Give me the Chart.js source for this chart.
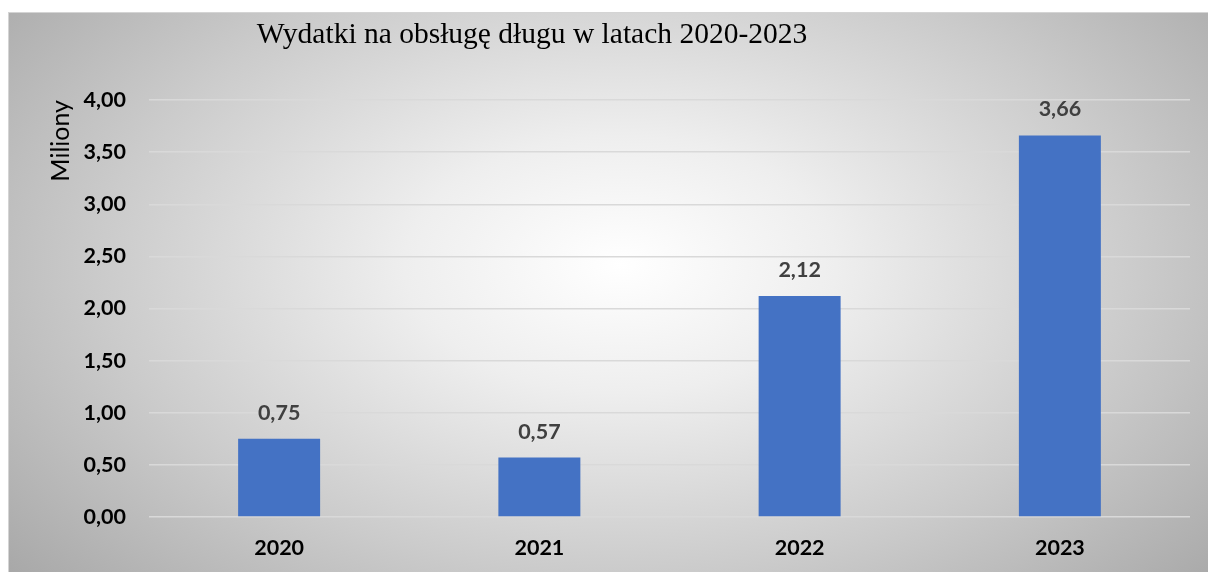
<!DOCTYPE html>
<html>
<head>
<meta charset="utf-8">
<script src="https://cdn.jsdelivr.net/npm/chart.js@4/dist/chart.umd.min.js"></script>
<style>
html, body { margin: 0; padding: 0; background: #ffffff; }
#wrap {
  position: absolute; left: 8px; top: 12px; width: 1200px; height: 560px;
  border-top: 1px solid #d4d4d4; border-left: 1px solid #d4d4d4;
  box-sizing: border-box;
  background: radial-gradient(ellipse 72% 92% at 51% 45%, #ffffff 0%, #eeeeee 25%, #cbcbcb 60%, #ababab 90%, #a0a0a0 100%);
}
#c { display: block; }
</style>
</head>
<body>
<div id="wrap"><canvas id="c" width="1199" height="559"></canvas></div>
<script>
const chartTitle = 'Wydatki na obsługę długu w latach 2020-2023';
const yAxisTitle = 'Miliony';
const categories = ['2020', '2021', '2022', '2023'];
const values = [0.75, 0.57, 2.12, 3.66];
const yTicks = [0, 0.5, 1, 1.5, 2, 2.5, 3, 3.5, 4];

const fmt = v => v.toFixed(2).replace('.', ',');

const overlay = {
  id: 'overlay',
  afterDatasetsDraw(chart) {
    const ctx = chart.ctx;
    ctx.save();
    ctx.font = 'bold 21.5px Lato';
    ctx.fillStyle = '#404040';
    ctx.textAlign = 'center';
    ctx.textBaseline = 'middle';
    chart.getDatasetMeta(0).data.forEach((bar, i) => {
      ctx.fillText(fmt(values[i]), bar.x, bar.y - 26);
    });
    ctx.font = '29.5px "Liberation Serif"';
    ctx.fillStyle = '#000000';
    ctx.textAlign = 'center';
    ctx.fillText(chartTitle, 523, 22);
    ctx.restore();
  }
};

new Chart(document.getElementById('c'), {
  type: 'bar',
  data: {
    labels: categories,
    datasets: [{
      data: values,
      backgroundColor: '#4472C4',
      borderWidth: 0,
      barPercentage: 0.315,
      categoryPercentage: 1
    }]
  },
  options: {
    responsive: false,
    animation: false,
    events: [],
    layout: { padding: { top: 87, right: 18, left: 0, bottom: 0 } },
    plugins: { legend: { display: false }, title: { display: false }, tooltip: { enabled: false } },
    scales: {
      x: {
        grid: { display: false, drawTicks: false },
        border: { display: false },
        ticks: { color: '#000000', font: { family: 'Lato', weight: 'bold', size: 21.5 }, padding: 18 },
        afterFit(s) { s.height = 55; }
      },
      y: {
        min: 0, max: 4,
        afterBuildTicks(s) { s.ticks = yTicks.map(v => ({ value: v })); },
        grid: { color: '#d9d9d9', lineWidth: 1.5, drawTicks: false },
        border: { display: false },
        ticks: { color: '#000000', font: { family: 'Lato', weight: 'bold', size: 21.5 }, padding: 23, callback: v => fmt(v) },
        title: { display: true, text: yAxisTitle, align: 'end', color: '#000000', font: { family: 'Lato', size: 25 }, padding: { top: 37, bottom: 0 } },
        afterFit(s) { s.width = 140; }
      }
    }
  },
  plugins: [overlay]
});
</script>
</body>
</html>
